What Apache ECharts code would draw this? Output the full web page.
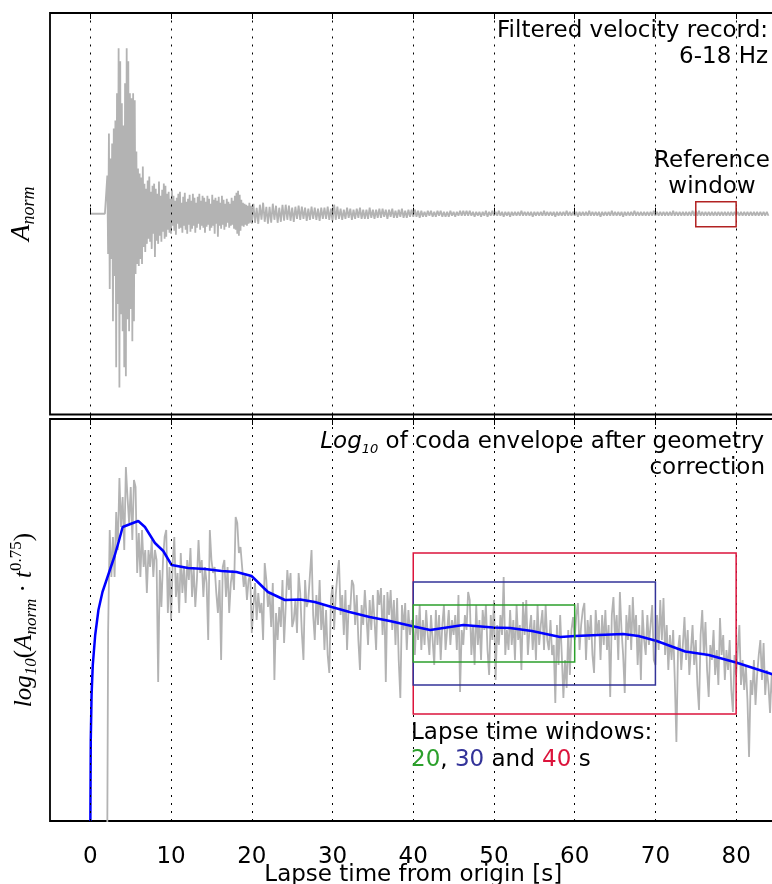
<!DOCTYPE html>
<html>
<head>
<meta charset="utf-8">
<script src="https://cdn.jsdelivr.net/npm/echarts@6/dist/echarts.min.js"></script>
<style>
html,body{margin:0;padding:0;background:#fff;}
#chart{width:772px;height:884px;}
</style>
</head>
<body>
<div id="chart"></div>
<script>
// ---------------- data ----------------
const tickValues = [0, 10, 20, 30, 40, 50, 60, 70, 80];
const xMin = -5, xMax = 85;

// filtered velocity record (normalised): first 20 s sampled every 0.1 s ...
const traceEarlyT0 = 0, traceEarlyDt = 0.1;
const traceEarly = [
 0,0,0,0,0,0,0,0,0,0,
 0,0,0,0,0,0,0,0,0,0,
 0.00,0.38,-0.40,0.80,-0.75,0.55,-0.45,0.70,-1.07,0.85,
 -0.62,0.93,-1.53,1.20,-0.90,1.65,-1.73,1.52,-1.00,1.10,
 -1.17,0.88,-1.53,1.30,-1.62,1.65,-1.05,1.52,-1.17,1.20,
 -0.95,1.15,-1.27,1.20,-1.07,1.13,-0.60,0.62,-0.50,0.45,
 -0.52,0.40,-0.45,0.36,-0.50,0.47,-0.33,0.30,-0.38,0.25,
 -0.30,0.33,-0.25,0.37,-0.28,0.22,-0.35,0.28,-0.20,0.30,
 -0.43,0.25,-0.27,0.20,-0.30,0.32,-0.22,0.18,-0.28,0.24,
 -0.18,0.30,-0.25,0.28,-0.23,0.20,-0.16,0.22,-0.19,0.15,
 -0.20,
 0.24,-0.12,0.18,-0.17,0.13,-0.21,0.16,-0.10,0.20,-0.15,
 0.22,-0.14,0.11,-0.19,0.17,-0.12,0.21,-0.16,0.12,-0.20,
 0.15,-0.11,0.19,-0.18,0.13,-0.15,0.20,-0.12,0.16,-0.19,
 0.11,-0.14,0.17,-0.10,0.20,-0.16,0.13,-0.12,0.18,-0.14,
 0.16,-0.19,0.12,-0.13,0.18,-0.11,0.15,-0.17,0.10,-0.14,
 0.19,-0.12,0.14,-0.20,0.16,-0.10,0.13,-0.23,0.17,-0.12,
 0.11,-0.15,0.18,-0.11,0.14,-0.16,0.10,-0.13,0.15,-0.09,
 0.12,-0.14,0.10,-0.12,0.16,-0.11,0.13,-0.15,0.18,-0.16,
 0.21,-0.20,0.23,-0.22,0.19,-0.17,0.14,-0.12,0.11,-0.13,
 0.10,-0.11,0.09,-0.12,0.08,-0.10,0.11,-0.09,0.08,-0.10
];
// ... and from 20.2 s to 85 s every 0.2 s
const traceLateT0 = 20.2, traceLateDt = 0.2;
const traceLate = [
 0.10,-0.09,0.06,-0.10,
 0.09,-0.06,0.11,-0.08,0.07,
 -0.10,0.07,-0.09,0.10,-0.06,
 0.08,-0.09,0.06,-0.08,0.09,
 -0.07,0.09,-0.06,0.08,-0.07,
 0.06,-0.08,0.07,-0.05,0.08,
 -0.06,0.07,-0.05,0.06,-0.07,
 0.05,-0.06,0.07,-0.05,0.06,
 -0.06,0.05,-0.07,0.06,-0.05,
 0.06,-0.05,0.07,-0.06,0.05,
 -0.07,0.09,-0.06,0.07,-0.05,
 0.05,-0.06,0.04,-0.05,0.06,
 -0.04,0.05,-0.06,0.04,-0.05,
 0.05,-0.04,0.06,-0.05,0.04,
 -0.05,0.04,-0.05,0.06,-0.04,
 0.04,-0.05,0.04,-0.04,0.05,
 -0.04,0.05,-0.03,0.04,-0.05,
 0.04,-0.03,0.05,-0.04,0.03,
 -0.04,0.04,-0.03,0.05,-0.04,
 0.03,-0.04,0.04,-0.03,0.04,
 -0.03,0.04,-0.03,0.03,-0.04,
 0.03,-0.03,0.02,-0.03,0.03,
 -0.02,0.03,-0.03,0.02,-0.03,
 0.03,-0.02,0.03,-0.03,0.02,
 -0.03,0.02,-0.03,0.03,-0.02,
 0.02,-0.03,0.02,-0.02,0.03,
 -0.02,0.03,-0.02,0.03,-0.02,
 0.03,-0.02,0.02,-0.03,0.02,
 -0.02,0.02,-0.03,0.02,-0.02,
 0.03,-0.03,0.02,-0.02,0.03,
 -0.02,0.02,-0.02,0.03,-0.02,
 0.02,-0.03,0.02,-0.02,0.02,
 -0.03,0.02,-0.02,0.02,-0.02,
 0.02,-0.02,0.03,-0.02,0.02,
 -0.02,0.02,-0.02,0.02,-0.03,
 0.02,-0.02,0.02,-0.02,0.02,
 -0.02,0.03,-0.02,0.02,-0.02,
 0.02,-0.02,0.02,-0.03,0.02,
 -0.02,0.02,-0.02,0.02,-0.02,
 0.03,-0.02,0.02,-0.02,0.02,
 -0.02,0.02,-0.03,0.02,-0.02,
 0.02,-0.02,0.02,-0.02,0.03,
 -0.02,0.02,-0.02,0.02,-0.02,
 0.02,-0.03,0.02,-0.02,0.02,
 -0.02,0.02,-0.02,0.03,-0.02,
 0.02,-0.02,0.02,-0.02,0.02,
 -0.03,0.02,-0.02,0.02,-0.02,
 0.02,-0.02,0.03,-0.02,0.02,
 -0.02,0.02,-0.02,0.02,-0.02,
 0.02,-0.02,0.02,-0.02,0.03,
 -0.02,0.02,-0.02,0.02,-0.02,
 0.02,-0.02,0.02,-0.02,0.02,
 -0.02,0.03,-0.02,0.02,-0.02,
 0.02,-0.02,0.02,-0.02,0.02,
 -0.02,0.02,-0.02,0.03,-0.02,
 0.03,-0.02,0.03,-0.02,0.02,
 -0.02,0.02,-0.02,0.02,-0.02,
 0.02,-0.02,0.02,-0.02,0.02,
 -0.02,0.02,-0.02,0.02,-0.02,
 0.02,-0.02,0.02,-0.02,0.02,
 -0.02,0.02,-0.02,0.02,-0.02,
 0.02,-0.02,0.02,-0.02,0.02,
 -0.02,0.02,-0.02,0.02,-0.02,
 0.02,-0.02,0.02,-0.02,0.02,
 -0.02
];

// log10 of coda envelope (geometry corrected), sampled every 0.2 s from t = 2 s
const envT0 = 2.0, envDt = 0.2;
const envValues = [
 -6,-2.12,-1.10,-1.57,-1.17,
 -1.57,-0.92,-1.30,-0.58,-1.07,
 -0.77,-1.30,-0.47,-0.77,-1.03,
 -0.67,-1.20,-0.60,-0.67,-1.53,
 -1.13,-1.57,-1.10,-1.47,-1.30,
 -1.73,-1.30,-1.47,-1.20,-1.57,
 -1.30,-1.40,-2.62,-1.50,-1.87,
 -1.40,-1.17,-1.10,-1.93,-1.47,
 -2.00,-1.43,-1.17,-1.77,-1.53,
 -1.93,-1.33,-1.73,-1.47,-1.83,
 -1.40,-1.60,-1.28,-1.77,-1.47,
 -1.87,-1.60,-1.20,-1.53,-1.40,
 -1.77,-1.47,-1.63,-2.20,-1.10,
 -1.40,-1.53,-1.47,-1.73,-1.93,
 -1.60,-2.40,-1.47,-1.40,-1.77,
 -1.47,-1.93,-1.63,-1.50,-1.70,
 -0.97,-1.03,-1.33,-1.27,-1.47,
 -1.67,-1.53,-1.80,-1.60,-1.55,
 -2.13,-1.87,-1.63,-2.00,-1.73,
 -1.93,-1.83,-2.20,-1.43,-1.60,
 -1.87,-1.73,-2.07,-1.63,-2.60,
 -1.93,-2.20,-1.87,-2.07,-1.60,
 -2.23,-1.87,-1.50,-1.70,-1.53,
 -2.07,-2.00,-1.80,-2.13,-1.53,
 -1.73,-2.13,-2.40,-1.60,-1.87,
 -1.80,-1.55,-1.30,-1.95,-2.20,
 -1.75,-2.05,-1.60,-2.10,-1.85,
 -2.30,-1.90,-2.35,-2.53,-1.80,
 -1.65,-2.10,-1.75,-1.55,-1.40,
 -1.95,-1.75,-2.15,-1.70,-2.30,
 -1.85,-1.90,-1.60,-1.65,-2.05,
 -1.75,-2.20,-2.50,-1.85,-2.05,
 -1.70,-1.95,-2.25,-1.80,-2.10,
 -1.75,-2.00,-2.30,-1.70,-1.85,
 -1.68,-2.15,-1.75,-2.62,-1.72,
 -1.95,-1.70,-2.10,-1.80,-2.25,
 -1.78,-2.40,-2.78,-1.85,-2.10,
 -1.83,-2.30,-1.90,-2.15,-2.00,
 -2.05,-2.35,-1.95,-2.20,-1.85,
 -2.30,-2.00,-2.25,-1.90,-2.15,
 -2.35,-1.95,-2.20,-2.45,-1.90,
 -2.25,-1.95,-2.40,-2.05,-1.85,
 -2.30,-2.10,-1.90,-2.25,-2.00,
 -2.15,-1.95,-2.30,-1.75,-2.72,
 -2.10,-2.25,-1.95,-2.10,-1.72,
 -1.80,-2.35,-2.05,-2.45,-1.85,
 -2.25,-2.00,-2.40,-1.90,-2.10,
 -1.85,-2.30,-2.55,-1.95,-2.20,
 -1.80,-2.60,-2.05,-2.25,-1.95,
 -2.15,-1.57,-2.35,-2.10,-2.30,
 -1.90,-2.25,-2.00,-2.40,-1.85,
 -2.20,-2.05,-2.50,-1.82,-2.15,
 -1.80,-2.35,-2.10,-1.95,-2.30,
 -2.00,-2.40,-1.85,-2.25,-2.05,
 -1.90,-2.30,-1.85,-2.20,-2.30,
 -2.00,-2.35,-2.25,-2.83,-2.05,
 -2.45,-1.95,-2.35,-2.78,-2.40,
 -2.68,-2.10,-2.55,-2.10,-1.97,
 -2.20,-1.95,-1.83,-2.30,-2.05,
 -1.90,-1.83,-2.40,-2.00,-2.20,
 -1.95,-2.35,-2.53,-1.90,-2.15,
 -2.00,-2.40,-1.95,-2.25,-1.90,
 -2.30,-2.05,-2.77,-1.95,-1.77,
 -2.20,-1.95,-2.40,-1.72,-2.10,
 -2.35,-2.73,-1.95,-2.20,-1.85,
 -2.30,-1.77,-2.15,-1.95,-2.45,
 -2.05,-2.60,-1.90,-2.20,-2.35,
 -1.95,-2.25,-2.05,-1.85,-2.40,
 -2.45,-1.95,-2.30,-1.80,-2.20,
 -1.78,-2.35,-2.05,-2.50,-2.15,
 -2.40,-2.10,-2.60,-3.22,-2.30,
 -2.15,-2.50,-2.25,-1.97,-2.40,
 -2.10,-2.55,-2.30,-2.05,-2.45,
 -2.20,-2.65,-2.90,-2.15,-1.90,
 -2.35,-2.02,-2.50,-2.77,-2.25,
 -2.40,-2.10,-2.55,-2.30,-2.65,
 -1.98,-2.35,-2.15,-2.60,-2.30,
 -2.50,-2.20,-2.70,-2.92,-2.35,
 -2.55,-2.30,-2.05,-2.65,-2.40,
 -2.70,-2.45,-2.80,-3.37,-2.60,
 -2.75,-2.40,-2.85,-2.55,-2.35,
 -2.20,-2.60,-2.23,-2.75,-2.50,
 -2.65,-2.93,-2.55,-2.80,-2.60,
 -2.55
];

// smoothed envelope (blue)
const fitTimes = [0,0.05,0.15,0.3,0.6,1.0,1.5,2.0,2.5,3.0,3.5,4.0,5.93,6.76,8.0,9.03,10.06,12.1,14.2,16.26,18.1,19.97,22.0,24.1,26.0,27.8,29.9,32.1,34.6,37.1,39.8,42.1,46.2,49.9,52.0,54.7,58.2,60.05,62.95,66.0,67.9,70.17,73.7,76.6,80.0,84.4,85];
const fitValues = [-4.01,-3.2,-2.75,-2.45,-2.15,-1.9,-1.72,-1.6,-1.48,-1.36,-1.22,-1.07,-1.01,-1.07,-1.23,-1.31,-1.45,-1.48,-1.49,-1.51,-1.52,-1.56,-1.72,-1.80,-1.795,-1.82,-1.87,-1.92,-1.97,-2.01,-2.06,-2.10,-2.05,-2.075,-2.08,-2.11,-2.17,-2.16,-2.15,-2.14,-2.16,-2.21,-2.315,-2.35,-2.425,-2.54,-2.56];

// lapse time windows
const windowStart = 40;
const windowLengths = [20, 30, 40];
const windowCenter = -2.135;
const windowHalfHeights = [0.285, 0.515, 0.805];
const windowColors = ['#2ca02c', '#333399', '#dc143c'];
// reference window (top panel)
const refWindowTimes = [75, 80];
const refWindowLevels = [-0.13, 0.12];

// ---------------- chart ----------------
const FONT = 'DejaVu Sans';
const GRAY = '#b3b3b3';
const chart = echarts.init(document.getElementById('chart'), null, {renderer: 'canvas', width: 772, height: 884});

const r2 = t => Math.round(t * 100) / 100;
const tracePairs = traceEarly.map((v, i) => [r2(traceEarlyT0 + i * traceEarlyDt), v])
  .concat(traceLate.map((v, i) => [r2(traceLateT0 + i * traceLateDt), v]));
const envPairs = envValues.map((v, i) => [r2(envT0 + i * envDt), v]);
const fitPairs = fitTimes.map((t, i) => [t, fitValues[i]]);

const gridLines = {
  silent: true,
  animation: false,
  symbol: ['none', 'none'],
  label: {show: false},
  lineStyle: {type: [2, 6], color: '#000', width: 1},
  emphasis: {disabled: true},
  data: tickValues.map(v => ({xAxis: v}))
};

function makeX(gridIndex, position, withLabels) {
  return {
    type: 'value', gridIndex: gridIndex, position: position,
    min: xMin, max: xMax,
    axisLine: {show: false},
    axisTick: {show: true, inside: true, length: 6, customValues: tickValues, lineStyle: {color: '#000', width: 1}},
    axisLabel: {show: withLabels, customValues: tickValues, color: '#000', fontFamily: FONT, fontSize: 23, margin: 25},
    splitLine: {show: false},
    name: withLabels ? 'Lapse time from origin [s]' : '',
    nameLocation: 'middle', nameGap: 43, nameMoveOverlap: false,
    nameTextStyle: {color: '#000', fontFamily: FONT, fontSize: 23}
  };
}

const serif = 'Liberation Serif';
const gridCommon = {show: true, borderColor: '#000', borderWidth: 1.8, backgroundColor: 'rgba(0,0,0,0)', outerBoundsMode: 'none', containLabel: false};
const option = {
  animation: false,
  backgroundColor: '#ffffff',
  grid: [
    Object.assign({left: 50, top: 13, width: 726.5, height: 401.5}, gridCommon),
    Object.assign({left: 50, top: 419, width: 726.5, height: 402}, gridCommon)
  ],
  xAxis: [makeX(0, 'bottom', false), makeX(0, 'top', false), makeX(1, 'bottom', true), makeX(1, 'top', false)],
  yAxis: [
    {type: 'value', gridIndex: 0, min: -2, max: 2,
     axisLine: {show: false}, axisTick: {show: false}, axisLabel: {show: false}, splitLine: {show: false},
     name: '{a|A}{s|norm}', nameLocation: 'middle', nameRotate: 90, nameGap: 12, nameMoveOverlap: false,
     nameTextStyle: {rich: {
       a: {fontFamily: serif, fontStyle: 'italic', fontSize: 27, lineHeight: 32, color: '#000'},
       s: {fontFamily: serif, fontStyle: 'italic', fontSize: 18, lineHeight: 14, verticalAlign: 'bottom', color: '#000'}
     }}},
    {type: 'value', gridIndex: 1, min: -4.01, max: 0.01,
     axisLine: {show: false}, axisTick: {show: false}, axisLabel: {show: false}, splitLine: {show: false},
     name: '{a|log}{s|10}{r|(}{a|A}{s|norm}{r| · }{a|t}{p|0.75}{r|)}', nameLocation: 'middle', nameRotate: 90, nameGap: 10, nameMoveOverlap: false,
     nameTextStyle: {rich: {
       a: {fontFamily: serif, fontStyle: 'italic', fontSize: 25, lineHeight: 32, color: '#000'},
       r: {fontFamily: serif, fontSize: 25, lineHeight: 32, color: '#000'},
       s: {fontFamily: serif, fontStyle: 'italic', fontSize: 17, lineHeight: 14, verticalAlign: 'bottom', color: '#000'},
       p: {fontFamily: serif, fontSize: 17, lineHeight: 16, verticalAlign: 'top', color: '#000'}
     }}}
  ],
  series: [
    {
      type: 'line', name: 'velocity', xAxisIndex: 0, yAxisIndex: 0,
      data: tracePairs, showSymbol: false, symbol: 'none', z: 2,
      lineStyle: {color: GRAY, width: 1.8},
      markLine: gridLines,
      markArea: {
        silent: true, z: 6,
        itemStyle: {color: 'rgba(0,0,0,0)', borderColor: '#b22222', borderWidth: 1.5},
        data: [[{xAxis: refWindowTimes[0], yAxis: refWindowLevels[1]}, {xAxis: refWindowTimes[1], yAxis: refWindowLevels[0]}]]
      }
    },
    {
      type: 'line', name: 'envelope', xAxisIndex: 2, yAxisIndex: 1,
      data: envPairs, showSymbol: false, symbol: 'none', z: 2,
      lineStyle: {color: GRAY, width: 1.8},
      markLine: gridLines,
      markArea: {
        silent: true, z: 6,
        data: windowLengths.map((len, i) => [
          {xAxis: windowStart, yAxis: windowCenter + windowHalfHeights[i],
           itemStyle: {color: 'rgba(0,0,0,0)', borderColor: windowColors[i], borderWidth: 1.5}},
          {xAxis: windowStart + len, yAxis: windowCenter - windowHalfHeights[i]}
        ]).reverse()
      }
    },
    {
      type: 'line', name: 'fit', xAxisIndex: 2, yAxisIndex: 1,
      data: fitPairs, showSymbol: false, symbol: 'none', z: 4,
      lineStyle: {color: '#0000ff', width: 2.5}
    }
  ],
  graphic: [
    {type: 'text', x: 768, y: 31, z: 10, style: {text: 'Filtered velocity record:', fontFamily: FONT, fontSize: 23, fill: '#000', align: 'right', verticalAlign: 'middle', textAlign: 'right', textVerticalAlign: 'middle'}},
    {type: 'text', x: 768, y: 57, z: 10, style: {text: '6-18 Hz', fontFamily: FONT, fontSize: 23, fill: '#000', align: 'right', verticalAlign: 'middle', textAlign: 'right', textVerticalAlign: 'middle'}},
    {type: 'text', x: 712, y: 161, z: 10, style: {text: 'Reference', fontFamily: FONT, fontSize: 23, fill: '#000', align: 'center', verticalAlign: 'middle', textAlign: 'center', textVerticalAlign: 'middle'}},
    {type: 'text', x: 712, y: 187, z: 10, style: {text: 'window', fontFamily: FONT, fontSize: 23, fill: '#000', align: 'center', verticalAlign: 'middle', textAlign: 'center', textVerticalAlign: 'middle'}},
    {type: 'text', x: 764, y: 442, z: 10, style: {
      text: '{it|Log}{sub|10}{n| of coda envelope after geometry}',
      align: 'right', verticalAlign: 'middle', textAlign: 'right', textVerticalAlign: 'middle',
      rich: {
        it: {fontFamily: FONT, fontStyle: 'italic', fontSize: 23, lineHeight: 28, fill: '#000'},
        sub: {fontFamily: FONT, fontStyle: 'italic', fontSize: 13, lineHeight: 13, verticalAlign: 'bottom', fill: '#000'},
        n: {fontFamily: FONT, fontSize: 23, lineHeight: 28, fill: '#000'}
      }}},
    {type: 'text', x: 765, y: 468, z: 10, style: {text: 'correction', fontFamily: FONT, fontSize: 23, fill: '#000', align: 'right', verticalAlign: 'middle', textAlign: 'right', textVerticalAlign: 'middle'}},
    {type: 'text', x: 411, y: 733, z: 10, style: {text: 'Lapse time windows:', fontFamily: FONT, fontSize: 23, fill: '#000', align: 'left', verticalAlign: 'middle', textAlign: 'left', textVerticalAlign: 'middle'}},
    {type: 'text', x: 411, y: 760, z: 10, style: {
      text: '{g|20}{k|, }{b|30}{k| and }{r|40}{k| s}',
      align: 'left', verticalAlign: 'middle', textAlign: 'left', textVerticalAlign: 'middle',
      rich: {
        g: {fontFamily: FONT, fontSize: 23, fill: windowColors[0]},
        b: {fontFamily: FONT, fontSize: 23, fill: windowColors[1]},
        r: {fontFamily: FONT, fontSize: 23, fill: windowColors[2]},
        k: {fontFamily: FONT, fontSize: 23, fill: '#000'}
      }}}
  ]
};
chart.setOption(option);
</script>
</body>
</html>
